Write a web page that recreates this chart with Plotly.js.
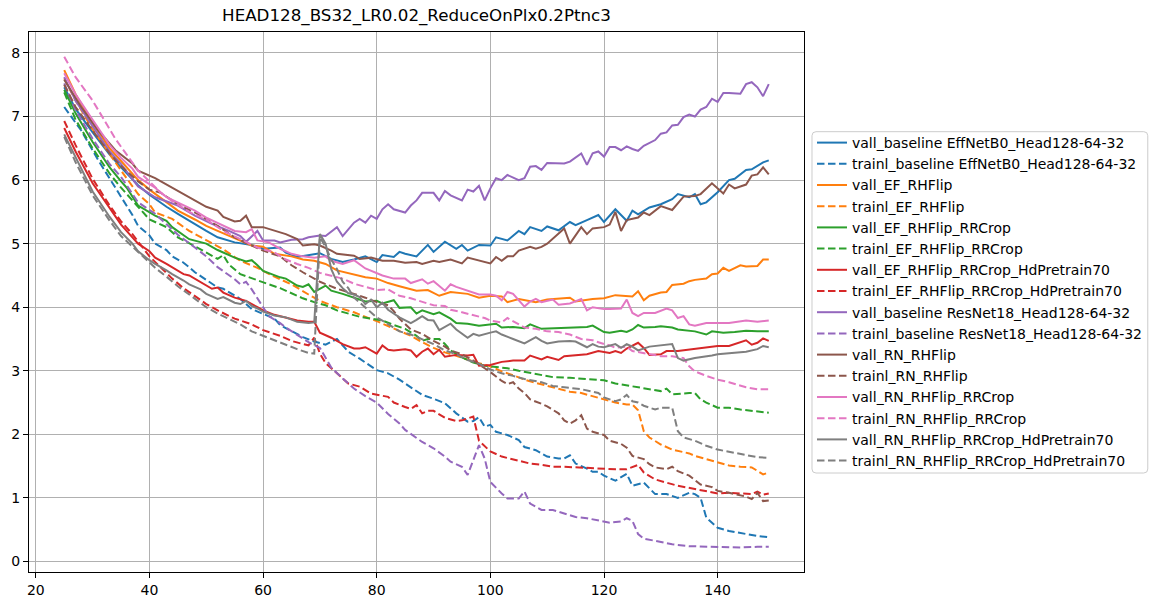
<!DOCTYPE html>
<html>
<head>
<meta charset="utf-8">
<title>HEAD128_BS32_LR0.02_ReduceOnPlx0.2Ptnc3</title>
<script src="https://cdn.plot.ly/plotly-3.0.1.min.js"></script>
<style>
    html, body { margin: 0; padding: 0; background: #ffffff; }
    #chart { width: 1157px; height: 605px; }
</style>
</head>
<body>
<div id="chart"></div>
<script>
// Loss curves, as [epoch, loss] pairs

const valBaselineEff = [[25,7.46],[27,7.12],[30,6.75],[33,6.40],[35,6.20],[38,5.92],[40,5.77],[43,5.58],[45,5.47],[48,5.30],[50,5.20],[52,5.10],[55,5.02],[58,4.98],[60,4.92],[63,4.94],[64,4.86],[66,4.79],[68,4.82],[70,4.85],[72,4.76],[74,4.71],[76,4.75],[78,4.80],[80,4.71],[81,4.82],[83,4.79],[84,4.87],[85,4.84],[87,4.80],[89,4.98],[90,4.87],[92,5.03],[94,4.92],[95,4.98],[96,4.89],[98,4.98],[100,4.97],[101,5.10],[103,5.05],[105,5.20],[106,5.15],[107,5.26],[109,5.20],[110,5.27],[112,5.21],[114,5.34],[115,5.29],[117,5.37],[119,5.45],[120,5.34],[122,5.54],[124,5.36],[125,5.52],[126,5.46],[128,5.57],[130,5.62],[132,5.70],[133,5.78],[135,5.73],[136,5.78],[137,5.62],[138,5.65],[140,5.81],[142,6.00],[143,6.02],[145,6.16],[146,6.17],[148,6.28],[149,6.31]];

const trainBaselineEff = [[25,7.15],[28,6.78],[31,6.31],[34,5.89],[37,5.45],[38,5.28],[40,5.13],[41,5.00],[43,4.90],[44,4.80],[46,4.70],[47,4.63],[48,4.55],[50,4.43],[52,4.31],[53,4.29],[55,4.18],[56,4.13],[58,3.97],[60,3.90],[62,3.82],[63,3.72],[65,3.62],[67,3.53],[69,3.46],[71,3.41],[73,3.50],[75,3.30],[77,3.19],[80,3.01],[82,2.96],[84,2.86],[86,2.74],[88,2.62],[90,2.56],[92,2.49],[94,2.33],[96,2.20],[97,2.21],[98,2.27],[99,2.12],[100,2.15],[101,2.04],[103,1.99],[105,1.91],[106,1.80],[108,1.75],[110,1.65],[112,1.62],[113,1.62],[114,1.67],[115,1.54],[117,1.46],[118,1.41],[119,1.41],[120,1.35],[122,1.27],[124,1.38],[125,1.19],[127,1.24],[129,1.06],[131,1.06],[133,1.00],[135,1.08],[136,1.06],[137,1.00],[138,0.69],[140,0.53],[142,0.48],[145,0.43],[147,0.40],[149,0.38]];

const valEfFlip = [[25,7.73],[27,7.35],[30,6.90],[33,6.50],[35,6.30],[38,6.00],[40,5.85],[43,5.65],[45,5.52],[48,5.38],[50,5.28],[52,5.20],[55,5.08],[56,5.05],[58,4.97],[60,4.95],[62,4.84],[65,4.80],[67,4.75],[69,4.73],[71,4.68],[73,4.58],[76,4.52],[78,4.47],[80,4.45],[82,4.38],[84,4.33],[87,4.26],[89,4.27],[91,4.18],[93,4.24],[96,4.21],[98,4.15],[100,4.18],[102,4.17],[103,4.08],[105,4.13],[108,4.08],[110,4.12],[112,4.13],[114,4.15],[115,4.09],[118,4.13],[120,4.14],[122,4.19],[125,4.17],[126,4.25],[127,4.11],[128,4.18],[130,4.23],[131,4.24],[132,4.35],[134,4.37],[135,4.41],[136,4.43],[138,4.45],[139,4.52],[140,4.53],[141,4.62],[142,4.57],[144,4.66],[145,4.64],[147,4.65],[148,4.75],[149,4.75]];

const trainEfFlip = [[25,7.60],[27,7.25],[30,6.80],[33,6.40],[35,6.15],[38,5.78],[40,5.62],[41,5.49],[44,5.39],[47,5.20],[50,5.05],[53,4.91],[56,4.73],[59,4.62],[62,4.48],[65,4.36],[68,4.20],[70,4.10],[73,4.00],[76,3.92],[80,3.78],[82,3.70],[84,3.62],[86,3.55],[88,3.45],[90,3.36],[92,3.29],[94,3.23],[96,3.18],[98,3.12],[100,3.07],[102,2.99],[104,2.93],[106,2.86],[108,2.81],[110,2.76],[112,2.72],[114,2.67],[116,2.65],[118,2.60],[119,2.58],[121,2.53],[122,2.50],[124,2.47],[125,2.47],[126,2.38],[127,2.05],[128,1.95],[130,1.84],[132,1.76],[135,1.70],[136,1.66],[138,1.61],[140,1.55],[142,1.51],[144,1.49],[146,1.48],[148,1.37],[149,1.40]];

const valEfCrop = [[25,7.42],[27,7.05],[30,6.60],[33,6.20],[35,5.98],[36,5.88],[38,5.60],[40,5.50],[41,5.44],[43,5.36],[44,5.26],[47,5.07],[50,5.00],[52,4.90],[55,4.78],[57,4.72],[58,4.74],[59,4.66],[60,4.57],[63,4.47],[64,4.45],[66,4.34],[67,4.32],[68,4.36],[69,4.24],[71,4.34],[72,4.26],[74,4.21],[76,4.15],[78,4.09],[80,4.10],[81,4.06],[83,4.11],[84,3.99],[86,4.00],[87,3.90],[88,3.95],[90,3.89],[91,3.92],[93,3.82],[94,3.75],[96,3.74],[98,3.71],[101,3.74],[102,3.68],[104,3.69],[106,3.67],[107,3.73],[109,3.66],[112,3.67],[115,3.68],[117,3.69],[118,3.71],[120,3.61],[121,3.60],[123,3.63],[124,3.61],[125,3.65],[126,3.72],[127,3.68],[129,3.69],[130,3.70],[132,3.68],[133,3.65],[136,3.62],[138,3.57],[139,3.62],[141,3.60],[143,3.61],[145,3.63],[147,3.62],[149,3.62]];

const trainEfCrop = [[25,7.38],[27,6.95],[30,6.50],[33,6.10],[35,5.88],[38,5.58],[40,5.38],[43,5.26],[45,5.10],[48,4.96],[50,4.86],[52,4.76],[53,4.82],[54,4.67],[56,4.52],[59,4.42],[61,4.36],[63,4.30],[65,4.22],[67,4.14],[69,4.08],[71,4.03],[73,3.95],[75,3.90],[77,3.85],[79,3.82],[81,3.79],[83,3.72],[85,3.66],[87,3.55],[88,3.47],[89,3.50],[91,3.50],[92,3.42],[93,3.32],[95,3.21],[97,3.13],[99,3.08],[101,3.06],[103,3.04],[105,3.00],[107,2.97],[109,2.94],[111,2.90],[114,2.89],[116,2.88],[118,2.87],[120,2.85],[122,2.80],[124,2.77],[126,2.74],[129,2.69],[130,2.68],[131,2.72],[132,2.63],[135,2.65],[136,2.65],[137,2.55],[138,2.50],[140,2.42],[142,2.42],[144,2.39],[146,2.37],[149,2.34]];

const valEfHead70 = [[25,6.82],[27,6.45],[30,5.95],[33,5.55],[35,5.30],[37,5.10],[38,5.00],[40,4.88],[41,4.78],[43,4.68],[44,4.63],[46,4.52],[47,4.50],[49,4.39],[51,4.29],[52,4.31],[53,4.23],[55,4.15],[56,4.13],[57,4.10],[59,4.00],[60,3.95],[62,3.88],[64,3.84],[66,3.79],[68,3.77],[69,3.77],[70,3.60],[72,3.52],[74,3.42],[76,3.35],[77,3.35],[78,3.37],[80,3.27],[81,3.40],[82,3.33],[83,3.32],[85,3.34],[86,3.32],[87,3.22],[88,3.30],[89,3.35],[90,3.26],[91,3.33],[92,3.22],[94,3.25],[96,3.24],[97,3.25],[98,3.08],[100,3.09],[102,3.14],[104,3.16],[106,3.16],[107,3.24],[109,3.18],[110,3.22],[112,3.17],[113,3.23],[115,3.25],[117,3.26],[119,3.31],[121,3.28],[122,3.31],[123,3.28],[124,3.35],[126,3.44],[127,3.36],[128,3.25],[130,3.26],[131,3.31],[133,3.31],[136,3.34],[138,3.37],[140,3.39],[142,3.39],[143,3.42],[145,3.48],[146,3.41],[147,3.44],[148,3.51],[149,3.47]];

const trainEfHead70 = [[25,6.93],[27,6.55],[30,6.02],[33,5.60],[35,5.35],[37,5.15],[40,4.80],[42,4.62],[44,4.45],[46,4.30],[48,4.18],[50,4.05],[52,3.95],[55,3.82],[58,3.73],[60,3.64],[63,3.55],[65,3.47],[67,3.42],[68,3.40],[69,3.52],[70,3.27],[71,3.12],[73,2.96],[75,2.80],[77,2.75],[79,2.64],[82,2.59],[83,2.50],[85,2.43],[86,2.40],[87,2.46],[88,2.33],[89,2.37],[90,2.37],[92,2.26],[94,2.21],[95,2.22],[97,2.28],[98,1.90],[100,1.73],[102,1.65],[105,1.58],[107,1.54],[109,1.52],[111,1.49],[113,1.49],[115,1.48],[118,1.46],[120,1.45],[122,1.45],[124,1.45],[126,1.52],[127,1.40],[129,1.29],[131,1.24],[133,1.19],[136,1.14],[138,1.11],[140,1.07],[142,1.08],[144,1.07],[146,1.06],[147,1.10],[148,1.05],[149,1.07]];

const valBaselineRes = [[25,7.62],[27,7.25],[30,6.85],[33,6.45],[35,6.25],[38,5.90],[41,5.73],[43,5.67],[45,5.60],[48,5.44],[51,5.31],[54,5.20],[56,5.12],[57,5.03],[59,5.20],[60,5.05],[62,5.05],[63,5.02],[65,5.06],[67,5.07],[68,5.10],[70,5.13],[71,5.12],[73,5.26],[74,5.12],[76,5.33],[77,5.39],[78,5.33],[79,5.44],[80,5.39],[81,5.54],[82,5.62],[83,5.54],[85,5.49],[86,5.60],[87,5.68],[88,5.80],[90,5.80],[91,5.68],[92,5.83],[93,5.76],[95,5.68],[96,5.85],[97,5.82],[98,5.91],[99,5.68],[100,5.87],[101,6.03],[102,6.00],[103,6.08],[104,6.04],[105,6.00],[106,6.03],[107,6.21],[108,6.22],[109,6.16],[110,6.27],[112,6.26],[113,6.26],[114,6.29],[116,6.42],[117,6.24],[118,6.42],[119,6.45],[120,6.37],[121,6.52],[122,6.52],[123,6.47],[124,6.53],[125,6.49],[126,6.46],[127,6.54],[128,6.59],[129,6.63],[130,6.73],[131,6.75],[132,6.86],[133,6.87],[134,6.99],[135,7.03],[136,7.00],[137,7.11],[138,7.15],[139,7.28],[140,7.23],[141,7.37],[142,7.37],[144,7.36],[145,7.51],[146,7.54],[147,7.46],[148,7.32],[149,7.51]];

const trainBaselineRes = [[25,7.52],[27,7.10],[30,6.65],[33,6.25],[35,6.05],[38,5.65],[41,5.47],[43,5.31],[45,5.14],[48,4.94],[50,4.80],[52,4.63],[55,4.44],[56,4.36],[57,4.40],[58,4.28],[59,4.15],[60,4.00],[61,3.86],[63,3.75],[64,3.68],[66,3.56],[68,3.45],[70,3.36],[71,3.20],[72,3.05],[74,2.88],[76,2.72],[78,2.60],[80,2.50],[82,2.32],[84,2.17],[85,2.07],[87,1.95],[88,1.88],[90,1.78],[92,1.65],[93,1.57],[95,1.49],[96,1.36],[97,1.60],[98,1.83],[99,1.62],[100,1.25],[102,1.07],[103,0.99],[105,0.99],[106,1.10],[107,0.91],[109,0.81],[111,0.81],[113,0.76],[115,0.70],[117,0.68],[119,0.65],[121,0.61],[123,0.63],[124,0.68],[125,0.64],[126,0.43],[127,0.36],[130,0.31],[132,0.27],[135,0.24],[138,0.23],[141,0.22],[144,0.22],[147,0.23],[149,0.23]];

const valRnFlip = [[25,7.58],[28,7.15],[31,6.78],[34,6.47],[37,6.26],[38,6.15],[41,6.03],[44,5.88],[47,5.72],[50,5.58],[52,5.52],[53,5.42],[55,5.35],[56,5.36],[57,5.44],[58,5.26],[60,5.26],[62,5.20],[64,5.15],[66,5.07],[67,4.97],[69,4.99],[70,4.97],[72,4.89],[73,4.84],[76,4.81],[77,4.76],[79,4.78],[81,4.73],[83,4.73],[85,4.70],[87,4.71],[88,4.68],[90,4.73],[91,4.71],[93,4.75],[95,4.69],[96,4.78],[98,4.74],[100,4.69],[101,4.79],[102,4.73],[103,4.80],[104,4.80],[105,4.89],[107,4.95],[108,4.92],[109,4.95],[110,5.00],[111,5.08],[113,5.24],[114,5.00],[116,5.26],[117,5.15],[118,5.24],[120,5.26],[121,5.30],[122,5.50],[123,5.20],[124,5.37],[126,5.41],[127,5.49],[128,5.45],[130,5.59],[132,5.53],[134,5.74],[136,5.75],[137,5.78],[139,5.95],[141,5.79],[142,5.93],[143,5.87],[145,5.93],[146,6.07],[147,6.09],[148,6.20],[149,6.09]];

const trainRnFlip = [[25,7.50],[27,7.15],[30,6.78],[33,6.42],[35,6.22],[38,5.98],[40,5.85],[42,5.80],[45,5.62],[48,5.49],[52,5.28],[55,5.10],[58,4.97],[60,4.89],[63,4.80],[65,4.66],[67,4.55],[69,4.45],[70,4.40],[73,4.29],[75,4.24],[76,4.21],[78,4.15],[80,4.08],[82,4.03],[83,3.94],[84,3.82],[86,3.65],[88,3.58],[90,3.47],[92,3.38],[93,3.32],[95,3.26],[97,3.16],[99,3.04],[100,2.98],[102,2.84],[103,2.79],[104,2.82],[105,2.72],[106,2.65],[107,2.55],[109,2.48],[110,2.44],[112,2.33],[113,2.22],[114,2.17],[115,2.22],[116,2.30],[117,2.09],[118,2.04],[120,1.99],[121,1.90],[123,1.85],[124,1.79],[125,1.66],[127,1.61],[128,1.53],[129,1.48],[131,1.45],[132,1.49],[133,1.42],[135,1.35],[137,1.21],[139,1.17],[140,1.11],[142,1.08],[143,1.06],[145,1.02],[146,0.98],[147,1.08],[148,0.95],[149,0.96]];

const valRnCrop = [[25,7.68],[27,7.35],[30,6.95],[33,6.55],[35,6.35],[37,6.18],[38,6.05],[41,5.88],[43,5.73],[45,5.65],[47,5.57],[48,5.52],[50,5.41],[52,5.33],[55,5.20],[57,5.18],[58,5.23],[59,5.05],[61,5.02],[63,4.92],[65,4.84],[67,4.80],[68,4.79],[69,4.78],[71,4.80],[72,4.73],[74,4.68],[76,4.74],[78,4.61],[80,4.53],[81,4.50],[83,4.45],[85,4.45],[86,4.38],[88,4.44],[89,4.37],[90,4.41],[92,4.26],[93,4.36],[94,4.32],[96,4.26],[98,4.20],[100,4.20],[101,4.18],[102,4.11],[103,4.24],[104,4.21],[106,4.01],[107,4.09],[108,4.13],[109,4.08],[111,4.12],[112,4.04],[114,4.06],[116,4.13],[117,3.95],[118,4.00],[120,3.97],[121,3.97],[123,3.98],[124,4.12],[125,3.91],[126,3.86],[127,3.91],[129,3.91],[131,3.98],[132,3.95],[133,3.83],[134,3.86],[135,3.73],[136,3.71],[138,3.75],[142,3.75],[145,3.79],[147,3.77],[149,3.79]];

const trainRnCrop = [[25,7.94],[27,7.62],[30,7.25],[32,6.94],[34,6.65],[36,6.40],[38,6.15],[40,5.98],[42,5.80],[44,5.67],[47,5.50],[50,5.38],[53,5.20],[56,5.07],[59,4.94],[62,4.86],[64,4.75],[66,4.68],[68,4.62],[70,4.54],[72,4.50],[74,4.45],[76,4.37],[78,4.32],[80,4.27],[82,4.28],[84,4.18],[86,4.14],[88,4.08],[90,4.03],[92,4.02],[93,3.96],[95,3.92],[97,3.87],[99,3.83],[100,3.79],[102,3.76],[103,3.83],[104,3.78],[106,3.68],[108,3.66],[110,3.62],[112,3.61],[114,3.57],[116,3.50],[118,3.48],[120,3.42],[121,3.40],[122,3.36],[124,3.38],[125,3.31],[127,3.28],[130,3.23],[132,3.23],[134,3.20],[135,3.07],[136,2.99],[138,2.92],[140,2.86],[142,2.82],[143,2.79],[145,2.74],[147,2.71],[149,2.71]];

const valRnHead70 = [[25,6.72],[27,6.35],[30,5.82],[33,5.42],[35,5.18],[37,5.00],[38,4.88],[40,4.74],[41,4.68],[43,4.58],[44,4.52],[46,4.42],[47,4.36],[49,4.28],[50,4.21],[52,4.13],[53,4.16],[55,4.07],[56,4.05],[57,4.10],[58,4.02],[59,3.98],[60,3.93],[62,3.87],[64,3.84],[66,3.77],[68,3.75],[69,3.76],[70,5.15],[71,5.00],[72,4.60],[73,4.40],[74,4.30],[75,4.22],[76,4.20],[77,4.16],[78,4.05],[79,4.12],[80,4.00],[81,4.07],[82,3.96],[84,3.84],[86,3.75],[87,3.80],[88,3.86],[89,3.80],[90,3.79],[91,3.64],[93,3.74],[94,3.65],[96,3.52],[97,3.58],[98,3.55],[100,3.60],[101,3.62],[102,3.57],[103,3.53],[104,3.50],[106,3.43],[108,3.53],[109,3.47],[110,3.43],[112,3.46],[114,3.47],[115,3.46],[117,3.37],[118,3.42],[119,3.38],[120,3.37],[121,3.39],[122,3.42],[123,3.36],[124,3.42],[125,3.38],[126,3.32],[128,3.38],[129,3.39],[131,3.41],[132,3.42],[133,3.20],[134,3.16],[136,3.20],[137,3.21],[139,3.24],[140,3.26],[143,3.28],[145,3.30],[147,3.34],[148,3.39],[149,3.37]];

const trainRnHead70 = [[25,6.68],[27,6.28],[30,5.76],[33,5.36],[35,5.12],[37,4.95],[39,4.78],[41,4.62],[43,4.48],[45,4.33],[47,4.20],[49,4.07],[50,4.00],[52,3.90],[54,3.82],[56,3.73],[58,3.62],[60,3.55],[62,3.47],[64,3.40],[66,3.34],[68,3.28],[69,3.27],[70,5.10],[71,4.95],[72,4.75],[73,4.60],[74,4.40],[75,4.30],[76,4.15],[78,4.00],[79,3.92],[80,3.84],[81,3.79],[82,3.73],[84,3.62],[86,3.57],[88,3.50],[90,3.42],[92,3.32],[94,3.26],[96,3.17],[98,3.11],[100,3.02],[102,2.96],[104,2.92],[106,2.87],[109,2.82],[111,2.76],[113,2.74],[116,2.71],[118,2.67],[119,2.65],[120,2.58],[122,2.52],[123,2.55],[124,2.62],[125,2.52],[126,2.50],[127,2.45],[129,2.39],[130,2.42],[132,2.42],[133,2.05],[134,1.95],[136,1.90],[138,1.82],[140,1.76],[143,1.71],[145,1.68],[147,1.64],[149,1.63]];

// Legend names, in plotting order
const seriesNames = [
    'vall_baseline EffNetB0_Head128-64-32',
    'trainl_baseline EffNetB0_Head128-64-32',
    'vall_EF_RHFlip',
    'trainl_EF_RHFlip',
    'vall_EF_RHFlip_RRCrop',
    'trainl_EF_RHFlip_RRCrop',
    'vall_EF_RHFlip_RRCrop_HdPretrain70',
    'trainl_EF_RHFlip_RRCrop_HdPretrain70',
    'vall_baseline ResNet18_Head128-64-32',
    'trainl_baseline ResNet18_Head128-64-32',
    'vall_RN_RHFlip',
    'trainl_RN_RHFlip',
    'vall_RN_RHFlip_RRCrop',
    'trainl_RN_RHFlip_RRCrop',
    'vall_RN_RHFlip_RRCrop_HdPretrain70',
    'trainl_RN_RHFlip_RRCrop_HdPretrain70'
];

const seriesData = [
    valBaselineEff, trainBaselineEff,
    valEfFlip, trainEfFlip,
    valEfCrop, trainEfCrop,
    valEfHead70, trainEfHead70,
    valBaselineRes, trainBaselineRes,
    valRnFlip, trainRnFlip,
    valRnCrop, trainRnCrop,
    valRnHead70, trainRnHead70
];

(function() {
    'use strict';

    // matplotlib tab10, one colour per val/train pair
    const pairColors = ['#1f77b4', '#ff7f0e', '#2ca02c', '#d62728', '#9467bd', '#8c564b', '#e377c2', '#7f7f7f'];
    const fontFamily = '"DejaVu Sans", "Liberation Sans", sans-serif';

    const margin = { l: 28.5, r: 353, t: 32, b: 33 };
    const plotW = 1157 - margin.l - margin.r;
    const plotH = 605 - margin.t - margin.b;

    // pixel -> paper helpers for the legend frame
    const px = v => (v - margin.l) / plotW;
    const py = v => (605 - margin.b - v) / plotH;

    const traces = seriesData.map(function(points, i) {
        const isTrain = i % 2 === 1;
        return {
            x: points.map(p => p[0]),
            y: points.map(p => p[1]),
            name: seriesNames[i],
            type: 'scatter',
            mode: 'lines',
            line: {
                color: pairColors[Math.floor(i / 2)],
                width: 2,
                dash: isTrain ? '7.5px,3.5px' : 'solid'
            }
        };
    });

    const axisCommon = {
        showgrid: true,
        gridcolor: '#b0b0b0',
        gridwidth: 1,
        zeroline: false,
        showline: true,
        linecolor: '#000000',
        linewidth: 1,
        mirror: true,
        ticks: 'outside',
        ticklen: 5,
        tickwidth: 1,
        tickcolor: '#000000',
        tickfont: { family: fontFamily, size: 14, color: '#000000' }
    };

    // Rounded legend frame like matplotlib's fancybox
    const bx0 = px(812), bx1 = px(1148), by0 = py(473), by1 = py(131.7);
    const rx = 4 / plotW, ry = 4 / plotH;
    const framePath = 'M ' + (bx0 + rx) + ' ' + by1 +
        ' L ' + (bx1 - rx) + ' ' + by1 + ' Q ' + bx1 + ' ' + by1 + ' ' + bx1 + ' ' + (by1 - ry) +
        ' L ' + bx1 + ' ' + (by0 + ry) + ' Q ' + bx1 + ' ' + by0 + ' ' + (bx1 - rx) + ' ' + by0 +
        ' L ' + (bx0 + rx) + ' ' + by0 + ' Q ' + bx0 + ' ' + by0 + ' ' + bx0 + ' ' + (by0 + ry) +
        ' L ' + bx0 + ' ' + (by1 - ry) + ' Q ' + bx0 + ' ' + by1 + ' ' + (bx0 + rx) + ' ' + by1 + ' Z';

    const layout = {
        width: 1157,
        height: 605,
        margin: Object.assign({ autoexpand: false }, margin),
        paper_bgcolor: '#ffffff',
        plot_bgcolor: '#ffffff',
        font: { family: fontFamily, size: 14, color: '#000000' },
        title: {
            text: 'HEAD128_BS32_LR0.02_ReduceOnPlx0.2Ptnc3',
            font: { family: fontFamily, size: 16.7, color: '#000000' },
            xref: 'paper',
            x: 0.5,
            xanchor: 'center',
            yref: 'container',
            y: 1 - 15 / 605,
            yanchor: 'middle'
        },
        xaxis: Object.assign({}, axisCommon, {
            range: [18.8, 155.2],
            tickvals: [20, 40, 60, 80, 100, 120, 140]
        }),
        yaxis: Object.assign({}, axisCommon, {
            range: [-0.166, 8.33],
            tickvals: [0, 1, 2, 3, 4, 5, 6, 7, 8]
        }),
        shapes: [{
            type: 'path',
            xref: 'paper',
            yref: 'paper',
            path: framePath,
            fillcolor: '#ffffff',
            line: { color: '#cccccc', width: 1 },
            layer: 'below'
        }],
        showlegend: true,
        legend: {
            x: px(812),
            xanchor: 'left',
            y: 0.5,
            yanchor: 'middle',
            bgcolor: 'rgba(0,0,0,0)',
            borderwidth: 0,
            font: { family: fontFamily, size: 14, color: '#000000' },
            traceorder: 'normal'
        }
    };

    Plotly.newPlot('chart', traces, layout, { displayModeBar: false, staticPlot: true });
})();
</script>
</body>
</html>
